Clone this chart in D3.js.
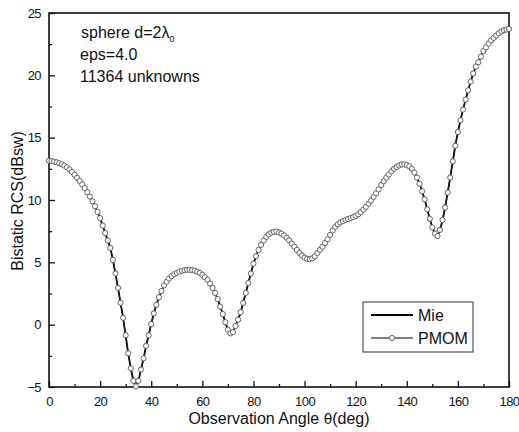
<!DOCTYPE html>
<html>
<head>
<meta charset="utf-8">
<script src="https://cdn.jsdelivr.net/npm/d3@7"></script>
<style>
  body { margin: 0; background: #fff; }
  text { font-family: "Liberation Sans", Arial, sans-serif; fill: #111; }
</style>
</head>
<body>
<svg id="chart" width="519" height="432"></svg>
<script>
// observation angle in degrees, one sample per degree
const angles = d3.range(0, 181);

// Mie reference solution (dBsw)
const mieRcs = [
  13.15, 13.12, 13.08, 13.02, 12.96, 12.87, 12.76, 12.62, 12.45, 12.25,
  12.02, 11.78, 11.52, 11.25, 10.95, 10.62, 10.27, 9.90, 9.50, 9.05,
  8.55, 7.95, 7.35, 6.75, 6.15, 5.20, 4.10, 2.95, 1.75, 0.55,
  -0.85, -2.30, -3.50, -4.50, -4.95, -4.50, -3.60, -2.70, -1.70, -0.85,
  0.05, 0.90, 1.60, 2.20, 2.70, 3.15, 3.45, 3.70, 3.90, 4.05,
  4.15, 4.25, 4.32, 4.37, 4.40, 4.40, 4.38, 4.33, 4.25, 4.15,
  4.00, 3.80, 3.60, 3.30, 2.95, 2.55, 2.05, 1.45, 0.85, 0.20,
  -0.40, -0.70, -0.60, -0.10, 0.40, 1.00, 1.75, 2.55, 3.35, 4.10,
  4.90, 5.50, 6.00, 6.40, 6.75, 7.05, 7.25, 7.38, 7.45, 7.47,
  7.40, 7.30, 7.15, 6.98, 6.75, 6.50, 6.25, 6.00, 5.75, 5.55,
  5.38, 5.28, 5.26, 5.32, 5.48, 5.75, 6.00, 6.25, 6.55, 6.85,
  7.20, 7.55, 7.85, 8.05, 8.20, 8.30, 8.40, 8.48, 8.55, 8.63,
  8.72, 8.85, 9.02, 9.22, 9.45, 9.70, 9.95, 10.25, 10.55, 10.85,
  11.20, 11.50, 11.80, 12.05, 12.30, 12.50, 12.65, 12.77, 12.85, 12.86,
  12.80, 12.70, 12.50, 12.20, 11.80, 11.30, 10.70, 10.05, 9.25, 8.50,
  7.80, 7.30, 7.10, 7.60, 8.40, 9.40, 10.60, 11.80, 13.10, 14.35,
  15.45, 16.40, 17.25, 18.05, 18.80, 19.50, 20.15, 20.70, 21.05, 21.50,
  21.95, 22.25, 22.55, 22.80, 23.00, 23.20, 23.38, 23.52, 23.62, 23.68,
  23.72
];

// PMOM result sits on top of the Mie curve
const pmomRcs = mieRcs.slice();

const xMajorTicks = [0, 20, 40, 60, 80, 100, 120, 140, 160, 180];
const xMinorTicks = [10, 30, 50, 70, 90, 110, 130, 150, 170];
const yMajorTicks = [-5, 0, 5, 10, 15, 20, 25];
const yMinorTicks = [-2.5, 2.5, 7.5, 12.5, 17.5, 22.5];

const legendItems = ["Mie", "PMOM"];

const margin = {top: 13, right: 10, bottom: 45, left: 49},
    width = 519 - margin.left - margin.right,
    height = 432 - margin.top - margin.bottom;

const svg = d3.select("#chart")
  .append("g")
    .attr("transform", `translate(${margin.left},${margin.top})`);

const x = d3.scaleLinear().domain([0, 180]).range([0, width]);
const y = d3.scaleLinear().domain([-5, 25]).range([height, 0]);

// x axis, ticks pointing inward
const xAxis = svg.append("g")
    .attr("transform", `translate(0,${height})`)
    .call(d3.axisBottom(x).tickValues(xMajorTicks).tickSizeInner(-6).tickSizeOuter(0).tickPadding(10));
xAxis.append("g")
    .call(d3.axisBottom(x).tickValues(xMinorTicks).tickSizeInner(-3).tickSizeOuter(0).tickFormat(""));

const yAxis = svg.append("g")
    .call(d3.axisLeft(y).tickValues(yMajorTicks).tickSizeInner(-6).tickSizeOuter(0).tickPadding(8));
yAxis.append("g")
    .call(d3.axisLeft(y).tickValues(yMinorTicks).tickSizeInner(-3).tickSizeOuter(0).tickFormat(""));

svg.selectAll(".domain").remove();
svg.selectAll(".tick line").attr("stroke", "#111").attr("stroke-width", 1.3);
svg.selectAll(".tick text")
    .style("font-size", "13px")
    .style("letter-spacing", "-0.6px")
    .attr("fill", "#111");

// frame
svg.append("rect")
    .attr("width", width)
    .attr("height", height)
    .attr("fill", "none")
    .attr("stroke", "#111")
    .attr("stroke-width", 1.6);

const line = d3.line()
    .x((d, i) => x(angles[i]))
    .y(d => y(d));

// Mie solid line
svg.append("path")
    .datum(mieRcs)
    .attr("fill", "none")
    .attr("stroke", "#000")
    .attr("stroke-width", 1.8)
    .attr("d", line);

// PMOM line with open circles
svg.append("path")
    .datum(pmomRcs)
    .attr("fill", "none")
    .attr("stroke", "#222")
    .attr("stroke-width", 1)
    .attr("d", line);

svg.selectAll(".pmom")
  .data(pmomRcs)
  .join("circle")
    .attr("class", "pmom")
    .attr("cx", (d, i) => x(angles[i]))
    .attr("cy", d => y(d))
    .attr("r", 2.6)
    .attr("fill", "#fff")
    .attr("stroke", "#555")
    .attr("stroke-width", 0.9);

// axis titles
svg.append("text")
    .attr("x", width / 2)
    .attr("y", height + 37)
    .attr("text-anchor", "middle")
    .style("font-size", "16px")
    .html("Observation Angle <tspan font-family='DejaVu Sans' font-size='14px'>θ</tspan>(deg)");

svg.append("text")
    .attr("transform", `translate(${-26},${height / 2 + 1}) rotate(-90)`)
    .attr("text-anchor", "middle")
    .style("font-size", "16px")
    .text("Bistatic RCS(dBsw)");

// annotation
const note = svg.append("g").style("font-size", "16px");
note.append("text").attr("x", 32).attr("y", 25)
    .html("sphere d=2λ<tspan dy='4' font-size='9px'>0</tspan>");
note.append("text").attr("x", 31).attr("y", 47).text("eps=4.0");
note.append("text").attr("x", 31).attr("y", 69).text("11364 unknowns");

// legend
const legend = svg.append("g")
    .attr("transform", `translate(${363 - margin.left},${302 - margin.top})`);
legend.append("rect")
    .attr("width", 110)
    .attr("height", 50)
    .attr("fill", "#fff")
    .attr("stroke", "#333")
    .attr("stroke-width", 1);

legend.selectAll(".item")
  .data(legendItems)
  .join("g")
    .attr("class", "item")
    .attr("transform", (d, i) => `translate(0,${13 + i * 23})`)
    .each(function (d, i) {
      const g = d3.select(this);
      g.append("line")
          .attr("x1", 8).attr("x2", 50)
          .attr("stroke", "#000")
          .attr("stroke-width", i === 0 ? 1.8 : 1);
      if (i === 1) {
        g.append("circle")
            .attr("cx", 29).attr("r", 2.6)
            .attr("fill", "#fff").attr("stroke", "#555").attr("stroke-width", 0.9);
      }
      g.append("text")
          .attr("x", 55).attr("y", 6)
          .style("font-size", "16px")
          .text(d);
    });
</script>
</body>
</html>
